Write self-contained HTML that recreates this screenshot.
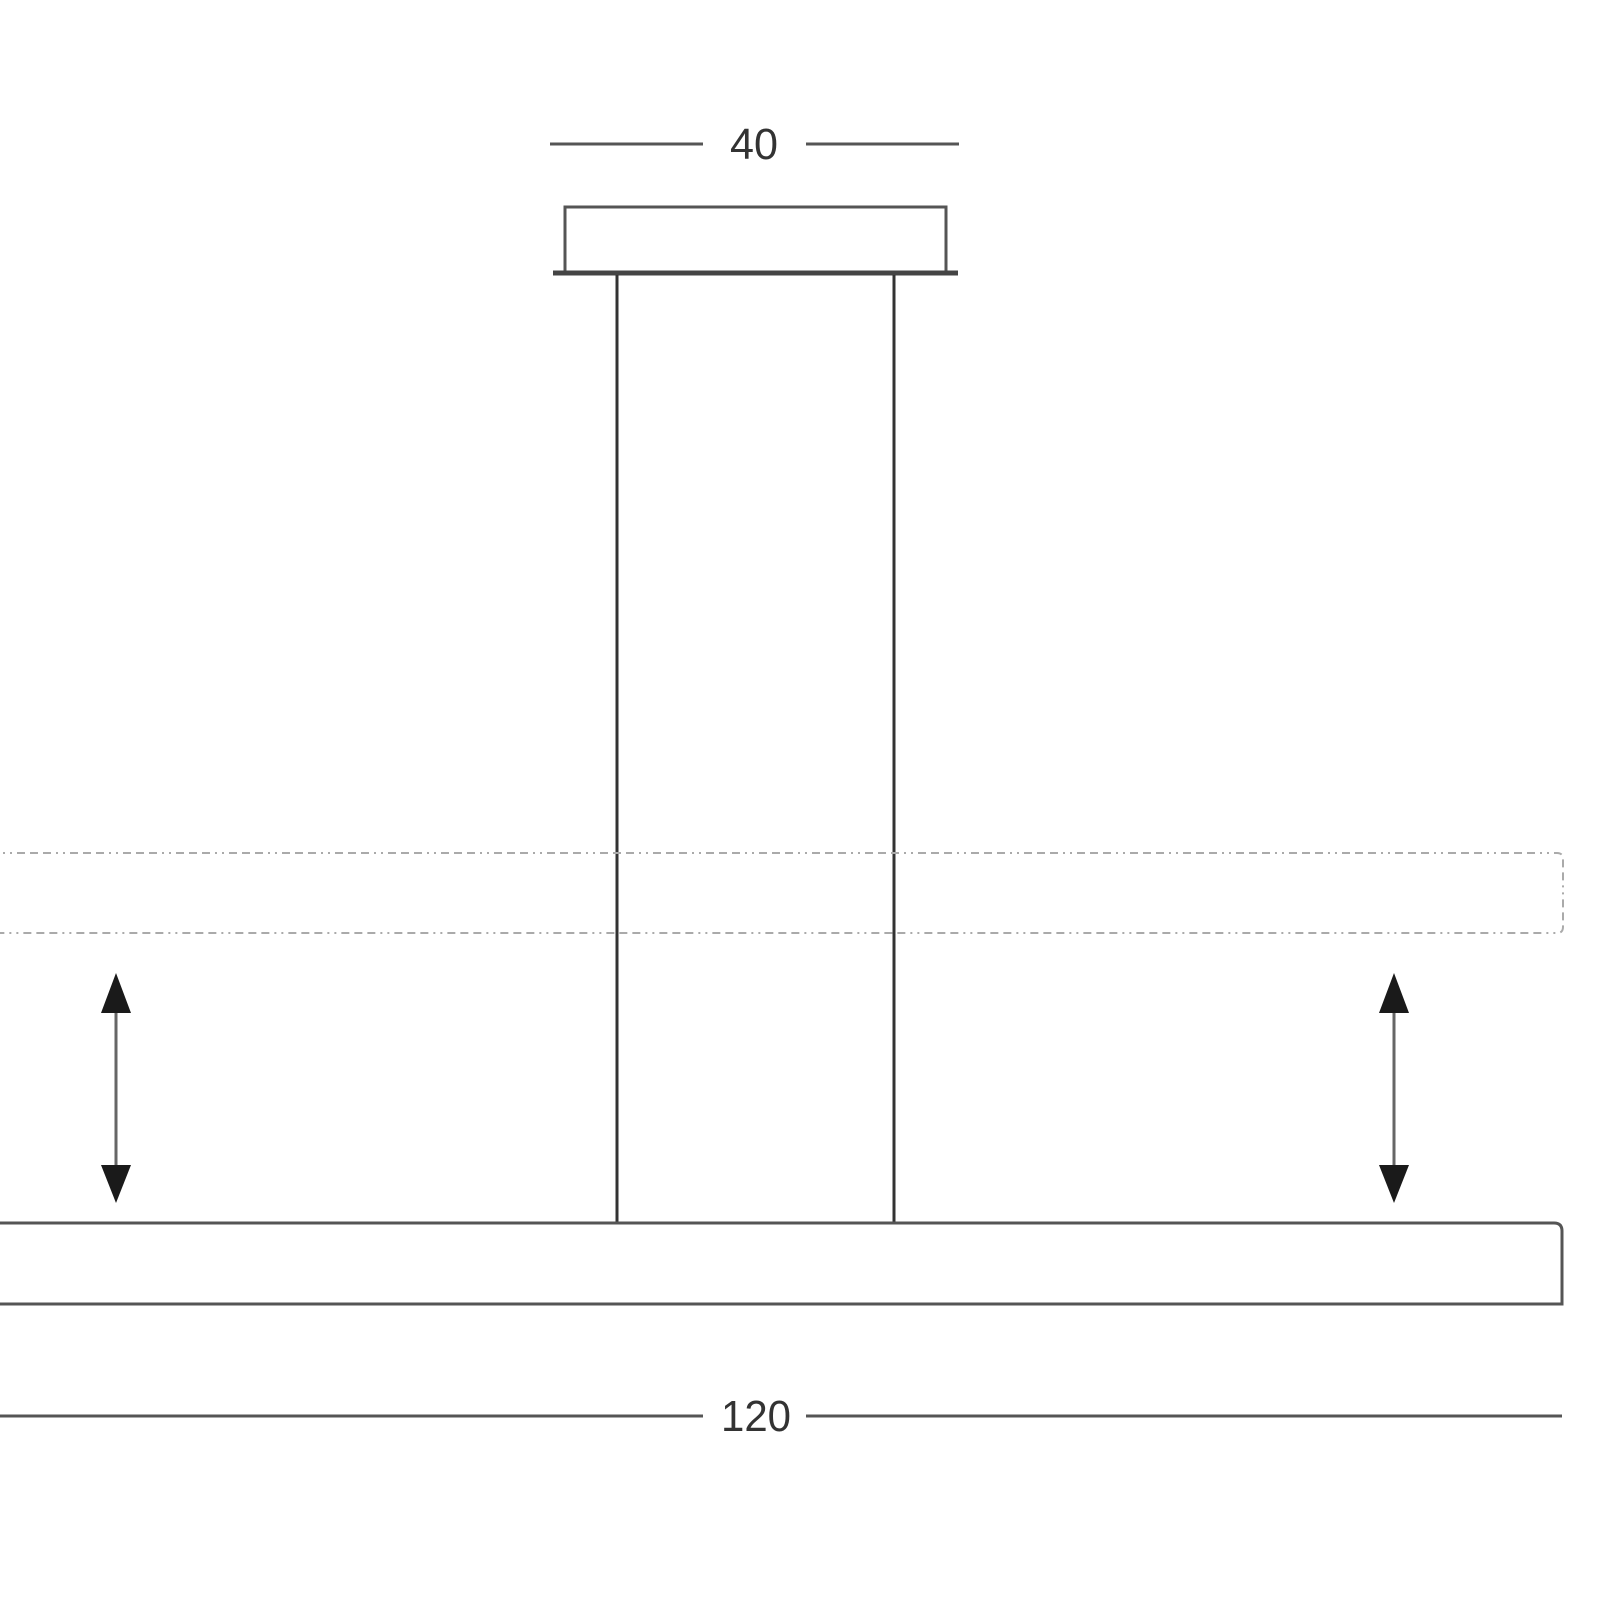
<!DOCTYPE html>
<html><head><style>html,body{margin:0;padding:0;background:#fff;}</style></head>
<body>
<svg width="1600" height="1600" viewBox="0 0 1600 1600" xmlns="http://www.w3.org/2000/svg">
<g stroke="#555" fill="none">
<line x1="550" y1="144" x2="703" y2="144" stroke-width="3"/>
<line x1="806" y1="144" x2="959" y2="144" stroke-width="3"/>
<rect x="565" y="207" width="381" height="66" stroke-width="3"/>
<line x1="553" y1="273" x2="958" y2="273" stroke-width="5" stroke="#444"/>
<line x1="617" y1="275" x2="617" y2="1224" stroke-width="3" stroke="#333"/>
<line x1="894" y1="275" x2="894" y2="1224" stroke-width="3" stroke="#333"/>
<path d="M-10 853 H1557 Q1563 853 1563 859 V927 Q1563 933 1557 933 H-10" stroke="#aaa" stroke-width="2" stroke-dasharray="8 5 2 5 2 5 8 5 8 5"/>
<path d="M-10 1223 H1554 Q1562 1223 1562 1231 V1304 H-10" stroke-width="3"/>
<line x1="0" y1="1416" x2="703" y2="1416" stroke-width="3"/>
<line x1="806" y1="1416" x2="1562" y2="1416" stroke-width="3"/>
<line x1="116" y1="1005" x2="116" y2="1175" stroke-width="3" stroke="#666"/>
<line x1="1394" y1="1005" x2="1394" y2="1175" stroke-width="3" stroke="#666"/>
</g>
<g fill="#1a1a1a">
<polygon points="116,973 101,1013 131,1013"/>
<polygon points="116,1203 101,1165 131,1165"/>
<polygon points="1394,973 1379,1013 1409,1013"/>
<polygon points="1394,1203 1379,1165 1409,1165"/>
</g>
<g font-family="Liberation Sans, sans-serif" font-size="44" fill="#333" text-anchor="middle">
<text x="754" y="159" textLength="48" lengthAdjust="spacingAndGlyphs">40</text>
<text x="756" y="1431" textLength="70" lengthAdjust="spacingAndGlyphs">120</text>
</g>
</svg>
</body></html>
